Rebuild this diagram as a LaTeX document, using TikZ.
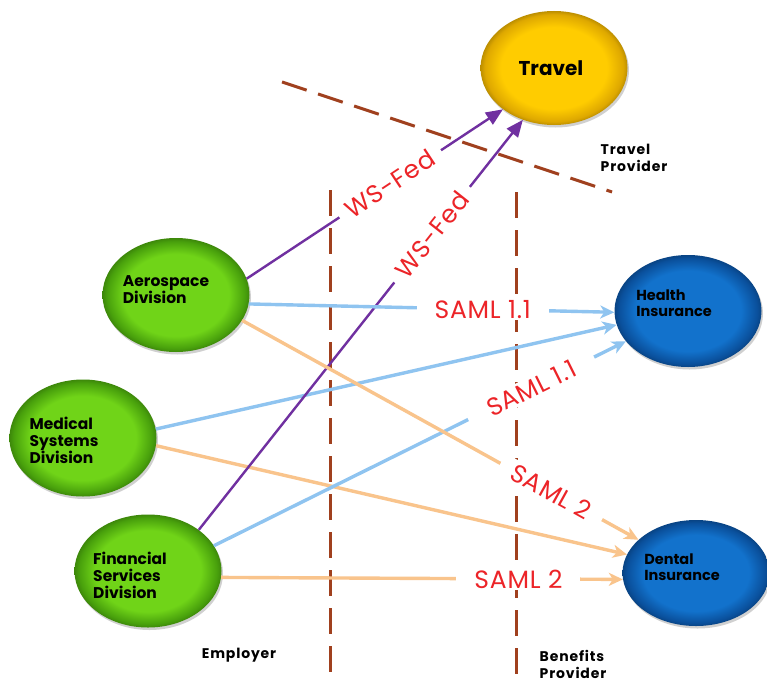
\documentclass[tikz,border=0pt]{standalone}
\usepackage{fontspec}
\setmainfont{Poppins}
\usetikzlibrary{shapes.geometric,arrows.meta,shadows}

\definecolor{grnC}{RGB}{112,212,24}
\definecolor{grnE}{RGB}{72,160,12}
\definecolor{gldC}{RGB}{255,204,0}
\definecolor{gldE}{RGB}{222,168,0}
\definecolor{bluC}{RGB}{18,114,204}
\definecolor{bluE}{RGB}{10,80,156}
\definecolor{purp}{RGB}{112,48,160}
\definecolor{sky}{RGB}{143,196,240}
\definecolor{peach}{RGB}{249,196,140}
\definecolor{rust}{RGB}{160,64,30}
\definecolor{lblred}{RGB}{236,36,40}

% bevelled fills for the ellipses: flat centre, darker rim
\pgfdeclareradialshading{grnball}{\pgfpoint{0bp}{0bp}}{color(0bp)=(grnC); color(18bp)=(grnC); color(23.5bp)=(grnE); color(25bp)=(grnE!85!black); color(50bp)=(grnE!85!black)}
\pgfdeclareradialshading{gldball}{\pgfpoint{0bp}{0bp}}{color(0bp)=(gldC); color(18bp)=(gldC); color(23.5bp)=(gldE); color(25bp)=(gldE!85!black); color(50bp)=(gldE!85!black)}
\pgfdeclareradialshading{bluball}{\pgfpoint{0bp}{0bp}}{color(0bp)=(bluC); color(18bp)=(bluC); color(23.5bp)=(bluE); color(25bp)=(bluE!85!black); color(50bp)=(bluE!85!black)}

\tikzset{
  orb/.style={ellipse, minimum width=147pt, minimum height=114pt, inner sep=0pt, shade,
    drop shadow={shadow xshift=1.5pt, shadow yshift=-2.5pt, opacity=.3, fill=black!60}},
  greenorb/.style={orb, shading=grnball},
  goldorb/.style={orb, shading=gldball},
  blueorb/.style={orb, shading=bluball},
  orbtext/.style={font=\bfseries\fontsize{15.5}{17}\selectfont, text=black, align=left, inner sep=0pt},
  smallorbtext/.style={orbtext, font=\bfseries\fontsize{14.5}{16}\selectfont},
  sidetext/.style={font=\bfseries\fontsize{14}{17}\selectfont\addfontfeature{LetterSpace=6}, text=black, align=left, inner sep=0pt},
  proto/.style={font=\fontsize{25}{28}\selectfont\addfontfeature{LetterSpace=3}, text=lblred, fill=white, inner ysep=2pt},
  divider/.style={draw=rust, line width=3pt, dash pattern=on 26pt off 12pt},
  purparrow/.style={draw=purp, line width=2.4pt, -{Triangle[length=17pt,width=14pt]}},
  skyarrow/.style={draw=sky, line width=3.4pt, -{Stealth[length=14pt,width=13pt,inset=4pt]}},
  peacharrow/.style={draw=peach, line width=3.4pt, -{Stealth[length=14pt,width=13pt,inset=4pt]}},
}

\begin{document}
\begin{tikzpicture}[x=1pt,y=-1pt]
\useasboundingbox[fill=white] (0,0) rectangle (767,682);

% boundaries between the parties
\coordinate (tpA) at (282,82);
\coordinate (tpB) at (612,192);
\coordinate (empTop) at (330,190);
\coordinate (empBot) at (330,690);
\coordinate (benTop) at (516,192);
\coordinate (benBot) at (516,690);
\draw[divider] (tpA) -- (tpB);
\draw[divider] (empTop) -- (empBot);
\draw[divider] (benTop) -- (benBot);

% parties
\node[goldorb] (travel) at (554,68) {};
\node[orbtext, font=\bfseries\fontsize{20}{22}\selectfont] (travelT) at (551,68) {Travel};

\node[greenorb] (aero) at (176,295) {};
\node[orbtext] (aeroT) at (166,290) {Aerospace\\Division};
\node[greenorb, minimum height=117pt] (med) at (83,438) {};
\node[orbtext] (medT) at (64,440) {Medical\\Systems\\Division};
\node[greenorb, minimum height=113pt] (fin) at (148,571) {};
\node[orbtext] (finT) at (130,575) {Financial\\Services\\Division};

\node[blueorb, minimum height=112pt] (health) at (688,311) {};
\node[smallorbtext] (healthT) at (674,303) {Health\\Insurance};
\node[blueorb, minimum height=106pt] (dental) at (696,573) {};
\node[smallorbtext] (dentalT) at (682,567) {Dental\\Insurance};

% party captions
\node[sidetext] (travelProv) at (634,158) {Travel\\Provider};
\node[sidetext] (employer) at (239,655) {Employer};
\node[sidetext] (benefits) at (573,664) {Benefits\\Provider};

% unlabelled federation links
\draw[skyarrow] (med.7) -- (health.191);
\draw[peacharrow] (med.-6) -- (dental.165);

% labelled federation links
\draw[purparrow] (aero.13) -- node[proto, sloped, pos=.56, inner xsep=10pt] (wsfedA) {WS-Fed} (travel.219);
\draw[purparrow] (fin.39) -- node[proto, sloped, pos=.72, inner xsep=10pt] (wsfedB) {WS-Fed} (travel.239);
\draw[skyarrow] (aero.-7) -- node[proto, pos=.64, inner xsep=18pt] (samlA) {SAML 1.1} (health.181);
\draw[skyarrow] (fin.21) -- node[proto, sloped, pos=.77, inner xsep=22pt] (samlB) {SAML 1.1} (health.206);
\draw[peacharrow] (aero.-21) -- node[proto, sloped, pos=.78, inner xsep=14pt] (samlC) {SAML 2} (dental.150);
\draw[peacharrow] (fin.-5) -- node[proto, pos=.74, inner xsep=18pt] (samlD) {SAML 2} (dental.185);
\end{tikzpicture}
\end{document}
